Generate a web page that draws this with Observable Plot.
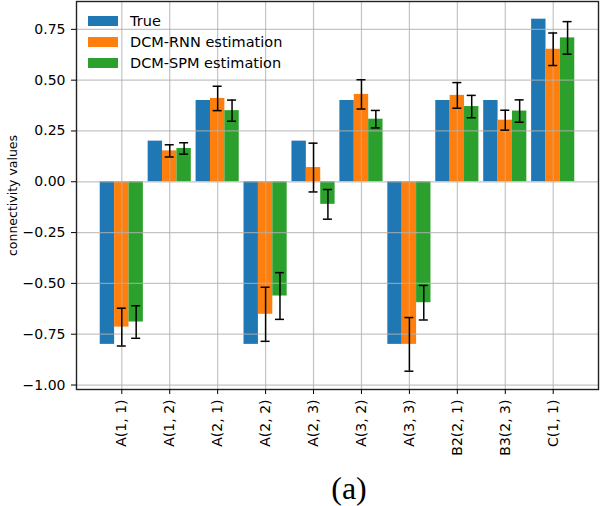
<!DOCTYPE html>
<html>
<head>
<meta charset="utf-8">
<script src="https://cdn.jsdelivr.net/npm/d3@7"></script>
<script src="https://cdn.jsdelivr.net/npm/@observablehq/plot@0.6"></script>
<style>
  html, body { margin: 0; padding: 0; background: #fff; }
  #wrap { position: relative; width: 600px; height: 506px; font-family: "DejaVu Sans", sans-serif; }
  #legend { position: absolute; left: 88px; top: 10px; font-size: 14.5px; color: #000; }
  .row { display: flex; align-items: center; height: 21px; }
  .sw { width: 30px; height: 10px; margin-right: 12px; }
  #caption { position: absolute; left: 349px; top: 470px; transform: translateX(-50%);
             font-family: "Liberation Serif", "DejaVu Serif", serif; font-size: 32px; line-height: 36px; color: #000; }
  #wrap svg g[aria-label="y-axis label"] text { font-size: 12.5px; }
</style>
</head>
<body>
<div id="wrap"></div>
<script>
const categories = ["A(1, 1)", "A(1, 2)", "A(2, 1)", "A(2, 2)", "A(2, 3)", "A(3, 2)", "A(3, 3)", "B2(2, 1)", "B3(2, 3)", "C(1, 1)"];
const seriesNames = ["True", "DCM-RNN estimation", "DCM-SPM estimation"];
const seriesColors = ["#1f77b4", "#ff7f0e", "#2ca02c"];
const trueVals = [-0.80, 0.20, 0.40, -0.80, 0.20, 0.40, -0.80, 0.40, 0.40, 0.80];
const rnnVals  = [-0.715, 0.152, 0.41, -0.652, 0.07, 0.43, -0.80, 0.425, 0.303, 0.652];
const rnnErr   = [0.093, 0.03, 0.06, 0.133, 0.12, 0.072, 0.132, 0.063, 0.049, 0.08];
const spmVals  = [-0.69, 0.164, 0.35, -0.562, -0.111, 0.308, -0.595, 0.37, 0.348, 0.708];
const spmErr   = [0.08, 0.028, 0.052, 0.115, 0.073, 0.043, 0.085, 0.055, 0.055, 0.08];
const yTicks = [-1.00, -0.75, -0.50, -0.25, 0.00, 0.25, 0.50, 0.75];

const barWidth = 0.3;
const offsets = [-barWidth, 0, barWidth];
const valueSets = [trueVals, rnnVals, spmVals];
const errSets = [null, rnnErr, spmErr];

const bars = [];
const errs = [];
valueSets.forEach((vals, s) => {
  vals.forEach((v, i) => {
    const xc = i + offsets[s];
    bars.push({series: seriesNames[s], x1: xc - barWidth / 2, x2: xc + barWidth / 2, value: v});
    if (errSets[s]) {
      const e = errSets[s][i];
      errs.push({xc, lo: v - e, hi: v + e});
    }
  });
});
const capHalf = 0.094;

const chart = Plot.plot({
  width: 600,
  height: 465,
  marginLeft: 76,
  marginRight: 2,
  marginTop: 1,
  marginBottom: 76,
  x: {type: "linear", domain: [-0.945, 9.945]},
  y: {domain: [-1.022, 0.887]},
  color: {domain: seriesNames, range: seriesColors},
  style: {fontFamily: "DejaVu Sans, sans-serif", fontSize: "14px", color: "#000", background: "#fff", overflow: "visible"},
  marks: [
    Plot.rect(bars, {x1: "x1", x2: "x2", y1: 0, y2: "value", fill: "series"}),
    Plot.gridX(d3.range(categories.length), {stroke: "#b0b0b0", strokeOpacity: 0.75, strokeWidth: 1.2}),
    Plot.gridY(yTicks, {stroke: "#b0b0b0", strokeOpacity: 0.75, strokeWidth: 1.2}),
    Plot.ruleX(errs, {x: "xc", y1: "lo", y2: "hi", stroke: "#000", strokeWidth: 1.5}),
    Plot.ruleY(errs, {y: "lo", x1: d => d.xc - capHalf, x2: d => d.xc + capHalf, stroke: "#000", strokeWidth: 1.5}),
    Plot.ruleY(errs, {y: "hi", x1: d => d.xc - capHalf, x2: d => d.xc + capHalf, stroke: "#000", strokeWidth: 1.5}),
    Plot.frame({stroke: "#222", strokeWidth: 1.4}),
    Plot.axisX(d3.range(categories.length), {tickFormat: i => categories[i], tickRotate: -90, tickSize: 5, tickPadding: 5, label: null}),
    Plot.axisY(yTicks, {tickFormat: d3.format(".2f"), tickSize: 5, tickPadding: 6, label: "connectivity values", labelAnchor: "center", labelOffset: 68, labelArrow: "none"})
  ]
});

const wrap = document.getElementById("wrap");
wrap.appendChild(chart);

const legend = document.createElement("div");
legend.id = "legend";
seriesNames.forEach((name, s) => {
  const row = document.createElement("div");
  row.className = "row";
  const sw = document.createElement("div");
  sw.className = "sw";
  sw.style.background = seriesColors[s];
  const lab = document.createElement("span");
  lab.textContent = name;
  row.appendChild(sw);
  row.appendChild(lab);
  legend.appendChild(row);
});
wrap.appendChild(legend);

const cap = document.createElement("div");
cap.id = "caption";
cap.textContent = "(a)";
wrap.appendChild(cap);
</script>
</body>
</html>
